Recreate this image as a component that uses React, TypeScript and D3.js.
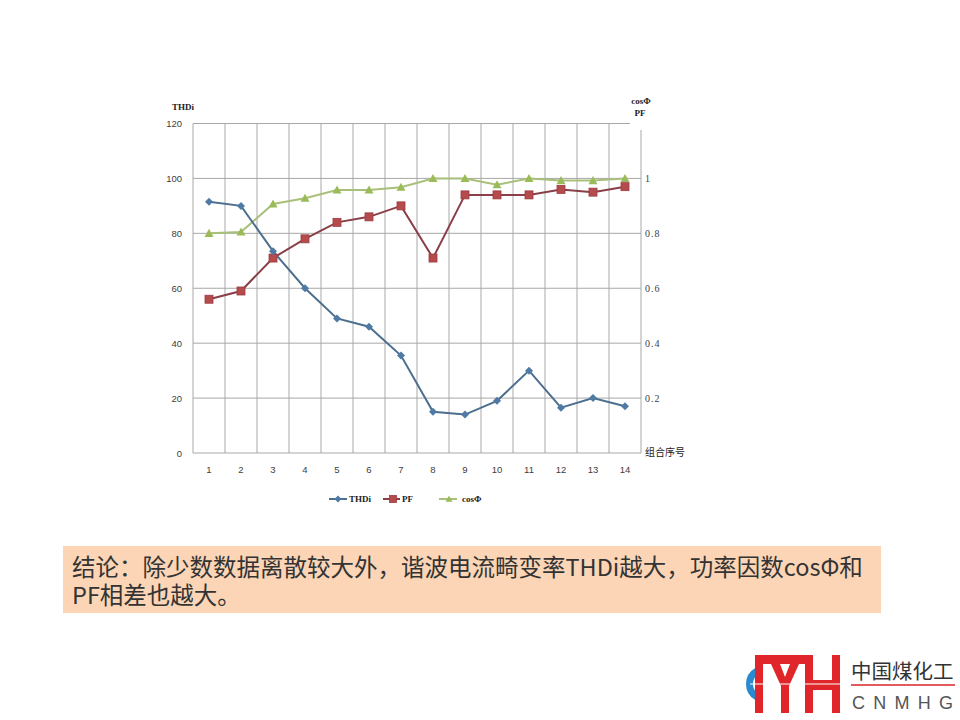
import React from "react";
import * as d3 from "d3";

const categories = ["1", "2", "3", "4", "5", "6", "7", "8", "9", "10", "11", "12", "13", "14"];
const thdi = [91.5, 90, 73.5, 60, 49, 46, 35.5, 15, 14, 19, 30, 16.5, 20, 17];
const pf = [0.56, 0.59, 0.71, 0.78, 0.84, 0.86, 0.9, 0.71, 0.94, 0.94, 0.94, 0.96, 0.95, 0.97];
const cosPhi = [0.8, 0.805, 0.907, 0.928, 0.958, 0.958, 0.968, 1.0, 1.0, 0.977, 1.0, 0.992, 0.992, 1.0];
const leftTicks = [0, 20, 40, 60, 80, 100, 120];
const rightTicks = [0.2, 0.4, 0.6, 0.8, 1];
const rightTickLabels = ["0.2", "0.4", "0.6", "0.8", "1"];
const legendNames = ["THDi", "PF", "cosΦ"];
const conclusionLines = [
  "结论：除少数数据离散较大外，谐波电流畸变率THDi越大，功率因数cosΦ和",
  "PF相差也越大。",
];

const C_THDI_LINE = "#4d6f8f";
const C_THDI_MK = "#4f7aa3";
const C_PF_LINE = "#8a3f48";
const C_PF_MK = "#b54b4d";
const C_COS_LINE = "#a9c07a";
const C_COS_MK = "#9bbb59";

const L = 193, R = 641, T = 123.5, B = 453;

function Diamond({ x, y, s, fill }: { x: number; y: number; s: number; fill: string }) {
  return <path d={`M${x},${y - s}L${x + s},${y}L${x},${y + s}L${x - s},${y}Z`} fill={fill} />;
}
function Square({ x, y, s, fill, stroke }: { x: number; y: number; s: number; fill: string; stroke: string }) {
  return <rect x={x - s} y={y - s} width={2 * s} height={2 * s} fill={fill} stroke={stroke} strokeWidth={0.8} />;
}
function Tri({ x, y, s, fill }: { x: number; y: number; s: number; fill: string }) {
  return <path d={`M${x},${y - s}L${x + s},${y + s * 0.8}L${x - s},${y + s * 0.8}Z`} fill={fill} />;
}

export default function App() {
  const x = d3.scaleBand<string>().domain(categories).range([L, R]);
  const yL = d3.scaleLinear().domain([0, 120]).range([B, T]);
  const yR = d3.scaleLinear().domain([0, 1.2]).range([B, T]);
  const cx = (c: string) => (x(c) as number) + x.bandwidth() / 2;

  const lineL = d3.line<number>().x((_, i) => cx(categories[i])).y((d) => yL(d));
  const lineR = d3.line<number>().x((_, i) => cx(categories[i])).y((d) => yR(d));

  const serif = "'Liberation Serif', 'DejaVu Serif', serif";
  const sans = "'Liberation Sans', Arial, sans-serif";
  const cjk = "'Noto Sans CJK SC', 'Noto Sans', sans-serif";

  const vlines = d3.range(categories.length + 1).map((i) => L + i * x.bandwidth());

  return (
    <svg width={960} height={720} style={{ position: "absolute", left: 0, top: 0, background: "#fff" }}>
      <rect x={0} y={0} width={960} height={720} fill="#fff" />
      {/* gridlines */}
      {leftTicks.map((t) => (
        <line key={"h" + t} x1={L} x2={t === 120 ? 630 : R} y1={yL(t)} y2={yL(t)} stroke="#a8a8a8" strokeWidth={1} />
      ))}
      {vlines.slice(0, -1).map((v, i) => (
        <line key={"v" + i} x1={v} x2={v} y1={T} y2={B} stroke="#a8a8a8" strokeWidth={1} />
      ))}
      <line x1={R} x2={R} y1={130} y2={B} stroke="#a8a8a8" strokeWidth={1} />

      {/* ticks */}
      {leftTicks.map((t) => (
        <text key={"lt" + t} x={182} y={yL(t) + 3.5} textAnchor="end" fontSize={9.5} fontFamily={sans} fill="#404040">
          {t}
        </text>
      ))}
      {rightTicks.map((t, i) => (
        <text key={"rt" + t} x={645} y={yR(t) + 3.5} fontSize={10} fontFamily={serif} fill="#404040" letterSpacing={1}>
          {rightTickLabels[i]}
        </text>
      ))}
      {categories.map((c) => (
        <text key={"c" + c} x={cx(c)} y={473} textAnchor="middle" fontSize={9.5} fontFamily={sans} fill="#404040">
          {c}
        </text>
      ))}
      <text x={183} y={110} textAnchor="middle" fontSize={9} fontWeight="bold" fontFamily={serif} fill="#222">THDi</text>
      <text x={641} y={104} textAnchor="middle" fontSize={9} fontWeight="bold" fontFamily={serif} fill="#222">cosΦ</text>
      <text x={640} y={116} textAnchor="middle" fontSize={9} fontWeight="bold" fontFamily={serif} fill="#222">PF</text>
      <text x={645} y={456} fontSize={10} fontFamily={cjk} fill="#222">组合序号</text>

      {/* series */}
      <path d={lineR(cosPhi) || ""} fill="none" stroke={C_COS_LINE} strokeWidth={2} />
      <path d={lineR(pf) || ""} fill="none" stroke={C_PF_LINE} strokeWidth={2} />
      <path d={lineL(thdi) || ""} fill="none" stroke={C_THDI_LINE} strokeWidth={2} />
      {cosPhi.map((v, i) => (
        <Tri key={"tm" + i} x={cx(categories[i])} y={yR(v)} s={4.5} fill={C_COS_MK} />
      ))}
      {pf.map((v, i) => (
        <Square key={"pm" + i} x={cx(categories[i])} y={yR(v)} s={4} fill={C_PF_MK} stroke="#9a3b40" />
      ))}
      {thdi.map((v, i) => (
        <Diamond key={"dm" + i} x={cx(categories[i])} y={yL(v)} s={4} fill={C_THDI_MK} />
      ))}

      {/* legend */}
      <g>
        <line x1={329} x2={347} y1={499} y2={499} stroke={C_THDI_LINE} strokeWidth={2} />
        <Diamond x={338} y={499} s={3.5} fill={C_THDI_MK} />
        <text x={349} y={502} fontSize={9} fontWeight="bold" fontFamily={serif} fill="#222">{legendNames[0]}</text>
        <line x1={383} x2={400} y1={499} y2={499} stroke={C_PF_LINE} strokeWidth={2} />
        <Square x={393} y={499} s={3.5} fill={C_PF_MK} stroke="#9a3b40" />
        <text x={402} y={502} fontSize={9} fontWeight="bold" fontFamily={serif} fill="#222">{legendNames[1]}</text>
        <line x1={439} x2={457} y1={499} y2={499} stroke={C_COS_LINE} strokeWidth={2} />
        <Tri x={449} y={499} s={3.5} fill={C_COS_MK} />
        <text x={462} y={502} fontSize={9} fontWeight="bold" fontFamily={serif} fill="#222">{legendNames[2]}</text>
      </g>

      {/* conclusion box */}
      <rect x={63} y={546} width={818} height={67} fill="#fbd5b6" />
      <text fontSize={23.5} fontFamily={cjk} fill="#333">
        {conclusionLines.map((s, i) => (
          <tspan key={"cl" + i} x={72} y={576 + i * 28}>
            {s}
          </tspan>
        ))}
      </text>

      {/* logo */}
      <g>
        <path d="M757,697 A15,15 0 0 1 757,671" fill="none" stroke="#2a8ad0" strokeWidth={7} />
        <g fill="#e0262a">
          <rect x={755} y={655} width={8} height={58} />
          <rect x={755} y={655} width={51} height={9} />
          <path d="M771,664 L780,664 L785,677 L790,664 L799,664 L789,686 L789,713 L781,713 L781,686 Z" />
          <rect x={805} y={655} width={8} height={58} />
          <rect x={832} y={655} width={8} height={58} />
          <rect x={813} y={680} width={19} height={10} />
        </g>
        <line x1={750} x2={842} y1={684} y2={684} stroke="#fff" strokeWidth={1} />
        <text x={851} y={679} fontSize={20.5} fontFamily={cjk} fill="#333">中国煤化工</text>
        <line x1={851} x2={955} y1={685} y2={685} stroke="#d9262a" strokeWidth={1.5} />
        <text x={852} y={709} fontSize={18} fontFamily={sans} fill="#555" textLength={101} lengthAdjust="spacing">CNMHG</text>
      </g>
    </svg>
  );
}
